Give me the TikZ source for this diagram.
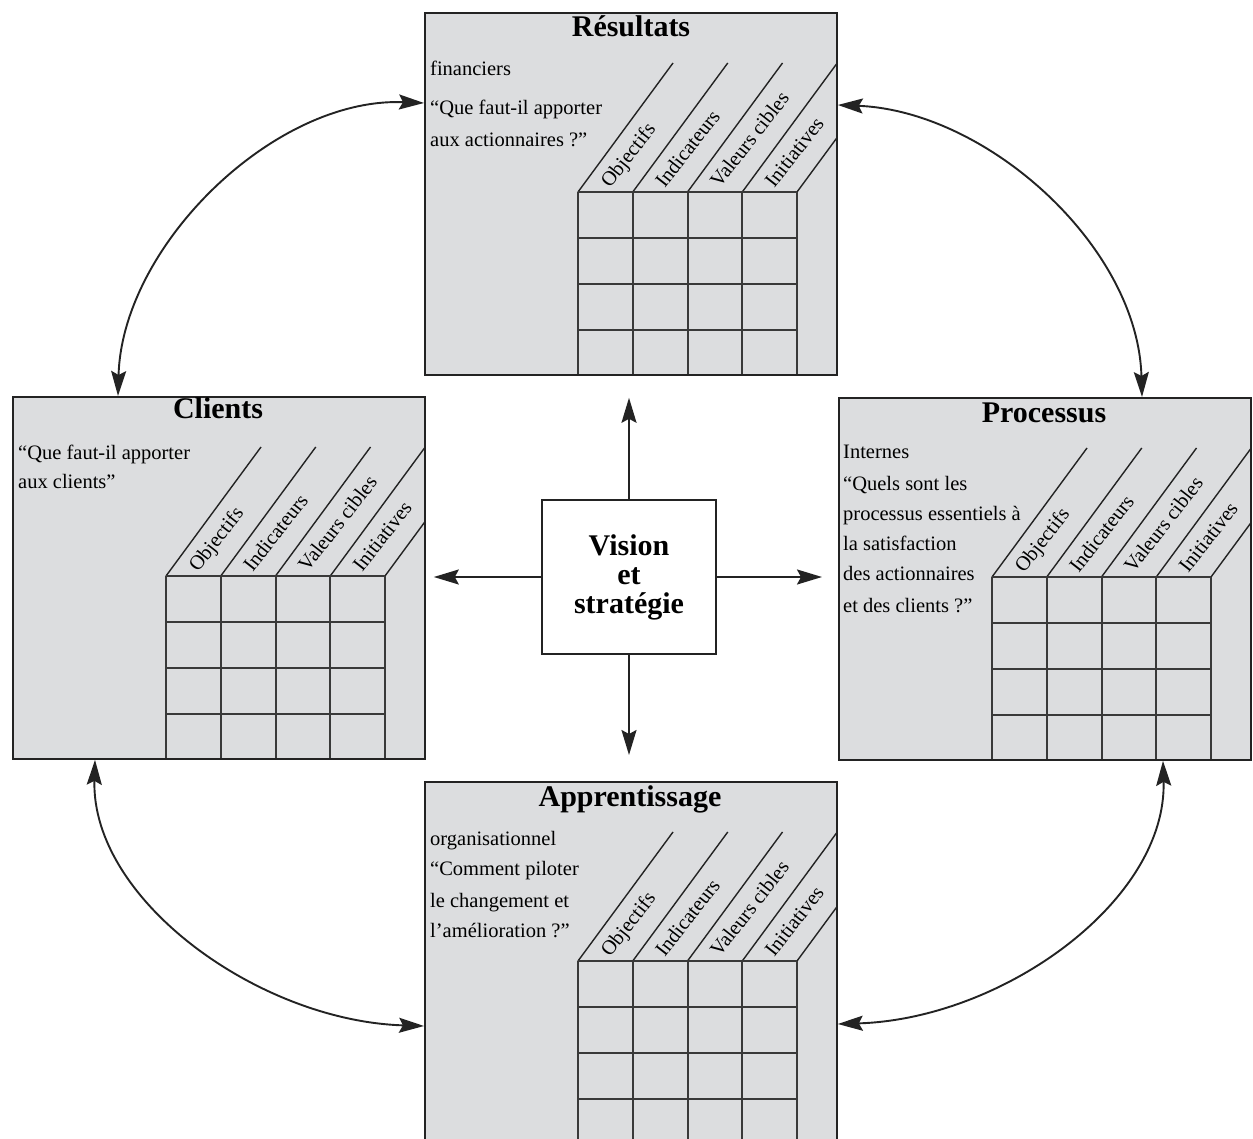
\documentclass[tikz,border=0pt]{standalone}
\usepackage{fontspec}
\setmainfont{Liberation Serif}
\usetikzlibrary{arrows.meta,calc}
\definecolor{panel}{RGB}{220,221,223}
\definecolor{ink}{RGB}{35,35,35}

% grid, slanted column heads and their labels of one scorecard panel
\newcommand\cardgrid{%
  \begin{scope}
    \clip (0,0) rectangle (412,362);
    \foreach \i in {0,...,4} {
      \draw[slant] (154+\i*54.75,180) -- ++(95,-129);
    }
  \end{scope}
  \foreach \i in {0,...,4} {
    \draw[gridline] (154+\i*54.75,180) -- (154+\i*54.75,362);
  }
  \foreach \j in {180,226,272,318} {
    \draw[gridline] (154,\j) -- (373,\j);
  }
  \foreach \t [count=\i from 0] in {Objectifs,Indicateurs,Valeurs cibles,Initiatives} {
    \node[collabel] at (154+\i*54.75+32,177) {\t};
  }
}

\begin{document}
\begin{tikzpicture}[x=1pt,y=-1pt,
  panelbox/.style={draw=ink,line width=1.8pt,fill=panel,rectangle,inner sep=0pt,
    minimum width=412pt,minimum height=362pt,anchor=north west},
  slant/.style={draw=ink,line width=1.4pt},
  gridline/.style={draw=ink!90,line width=2pt},
  collabel/.style={anchor=base west,rotate=52,inner sep=0pt,font=\fontsize{20.5}{20.5}\selectfont},
  paneltitle/.style={anchor=base,inner sep=0pt,font=\fontsize{30}{30}\selectfont\bfseries},
  bodytext/.style={anchor=base west,inner sep=0pt,font=\fontsize{20.5}{20.5}\selectfont},
  visionbox/.style={draw=ink,line width=1.8pt,fill=white,rectangle,inner sep=0pt,
    minimum width=174pt,minimum height=154pt,align=center,
    font=\fontsize{30}{29}\selectfont\bfseries},
  >={Stealth[length=25pt,width=15pt,inset=4pt]},
  conn/.style={draw=ink,line width=1.9pt}
]
\useasboundingbox (0,0) rectangle (1253,1139);
\path[fill=white] (0,0) rectangle (1253,1139);

% the four panels
\node[panelbox] (res) at (424,12) {};
\node[panelbox] (cli) at (12,396) {};
\node[panelbox] (pro) at (838,397) {};
\node[panelbox] (app) at (424,781) {};

\begin{scope}[shift={(res.north west)}]
  \cardgrid
  \node[paneltitle] (resT) at (207,25) {Résultats};
  \node[bodytext] (res1) at (6,64) {financiers};
  \node[bodytext] (res2) at (6,103) {“Que faut-il apporter};
  \node[bodytext] (res3) at (6,135) {aux actionnaires ?”};
\end{scope}

\begin{scope}[shift={(cli.north west)}]
  \cardgrid
  \node[paneltitle] (cliT) at (206,23) {Clients};
  \node[bodytext] (cli1) at (6,63) {“Que faut-il apporter};
  \node[bodytext] (cli2) at (6,92) {aux clients”};
\end{scope}

\begin{scope}[shift={(pro.north west)}]
  \cardgrid
  \node[paneltitle] (proT) at (206,25) {Processus};
  \node[bodytext] (pro1) at (5,61) {Internes};
  \node[bodytext] (pro2) at (5,93) {“Quels sont les};
  \node[bodytext] (pro3) at (5,123) {processus essentiels à};
  \node[bodytext] (pro4) at (5,153) {la satisfaction};
  \node[bodytext] (pro5) at (5,183) {des actionnaires};
  \node[bodytext] (pro6) at (5,215) {et des clients ?”};
\end{scope}

\begin{scope}[shift={(app.north west)}]
  \cardgrid
  \node[paneltitle] (appT) at (206,25) {Apprentissage};
  \node[bodytext] (app1) at (6,64) {organisationnel};
  \node[bodytext] (app2) at (6,94) {“Comment piloter};
  \node[bodytext] (app3) at (6,126) {le changement et};
  \node[bodytext] (app4) at (6,156) {l’amélioration ?”};
\end{scope}

% central box
\node[visionbox] (vis) at (629,577) {Vision\\et\\stratégie};

% arrows out of the central box
\coordinate (upEnd) at ($(res.south)+(0,22)$);
\coordinate (downEnd) at ($(app.north)+(0,-26)$);
\coordinate (leftEnd) at ($(cli.east)+(8,0)$);
\coordinate (rightEnd) at ($(pro.west)+(-16,0)$);
\draw[conn,->] (vis.north) -- (vis.north |- upEnd);
\draw[conn,->] (vis.south) -- (vis.south |- downEnd);
\draw[conn,->] (vis.west) -- (vis.west -| leftEnd);
\draw[conn,->] (vis.east) -- (vis.east -| rightEnd);

% curved links between neighbouring panels
\coordinate (tlA) at ($(cli.north west)+(106,0)$);
\coordinate (tlB) at ($(res.north west)+(0,91)$);
\draw[conn,<->] (tlA) .. controls +(4,-150) and +(-150,-6) .. (tlB);

\coordinate (trA) at ($(res.north east)+(0,93)$);
\coordinate (trB) at ($(pro.north west)+(304,0)$);
\draw[conn,<->] (trA) .. controls +(150,6) and +(-4,-150) .. (trB);

\coordinate (blA) at ($(cli.south west)+(83,0)$);
\coordinate (blB) at ($(app.north west)+(0,245)$);
\draw[conn,<->] (blA) .. controls +(-4,140) and +(-165,-5) .. (blB);

\coordinate (brA) at ($(pro.south west)+(325,0)$);
\coordinate (brB) at ($(app.north east)+(0,243)$);
\draw[conn,<->] (brA) .. controls +(4,140) and +(165,-5) .. (brB);
\end{tikzpicture}
\end{document}
